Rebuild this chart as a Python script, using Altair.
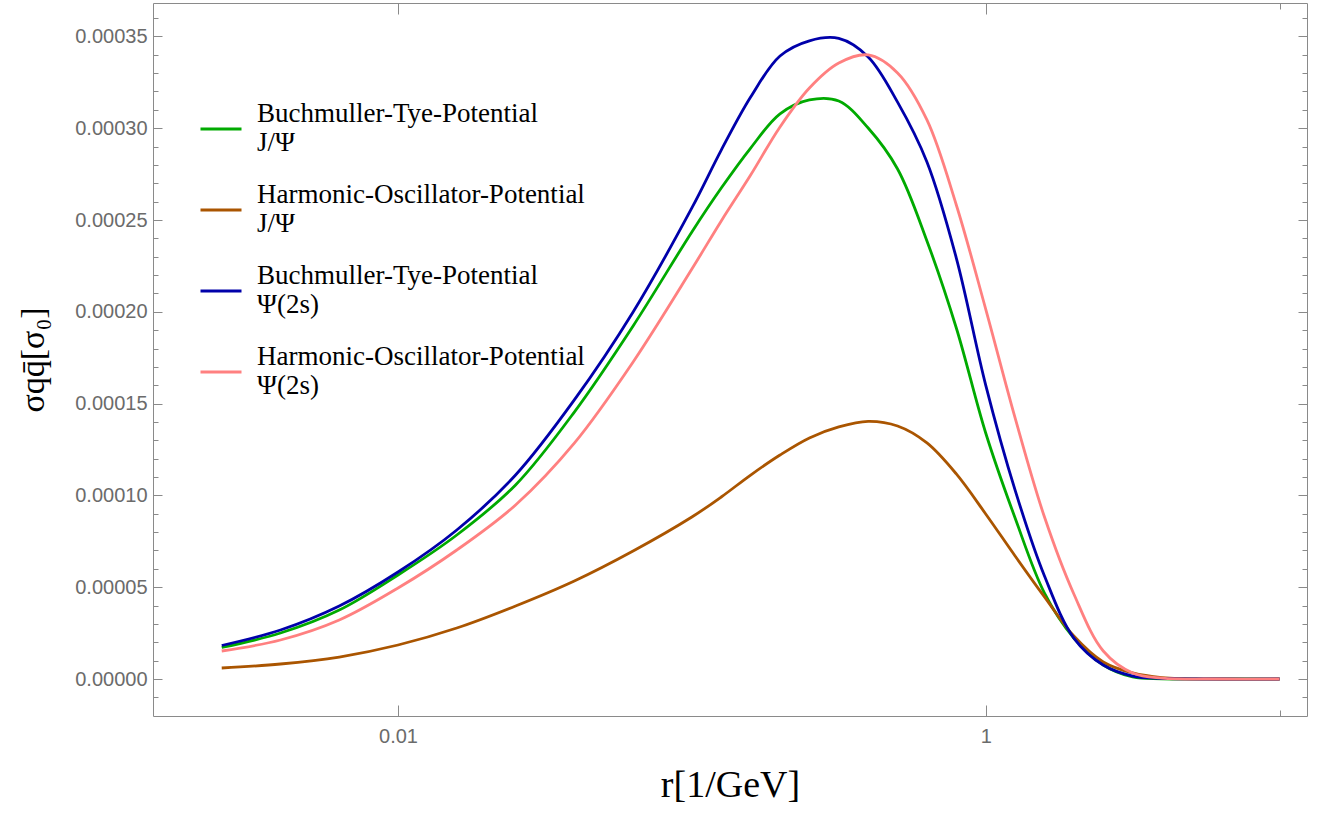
import altair as alt
import pandas as pd

# ---------------- data ----------------
r_values = [0.002512, 0.003981, 0.00631, 0.01, 0.01585, 0.02512, 0.03981, 0.0631,
            0.1, 0.1259, 0.1585, 0.1995, 0.2512, 0.3162, 0.3981, 0.5012, 0.631,
            0.7943, 1.0, 1.259, 1.585, 1.995, 2.512, 3.162, 3.981, 6.31, 10.0]

# values in units of 1e-5 sigma_0
bt_jpsi = [1.716, 2.506, 3.758, 5.665, 7.844, 10.57, 14.54, 19.23, 24.35, 26.74, 28.92,
           30.78, 31.54, 31.48, 30.01, 27.78, 23.86, 19.12, 13.40, 8.77, 4.68, 2.23,
           0.76, 0.11, 0.01, 0.0, 0.0]
ho_jpsi = [0.599, 0.817, 1.198, 1.852, 2.778, 3.976, 5.338, 6.972, 8.824, 9.914, 11.11,
           12.20, 13.13, 13.73, 14.03, 13.78, 12.86, 11.17, 8.99, 6.70, 4.47, 2.34,
           0.93, 0.33, 0.08, 0.0, 0.0]
bt_psi2s = [1.825, 2.669, 3.976, 5.828, 8.116, 11.11, 15.20, 19.99, 25.66, 28.81, 31.70,
            33.93, 34.76, 34.89, 33.88, 31.42, 28.16, 22.93, 16.01, 10.29, 5.61, 2.23,
            0.76, 0.16, 0.03, 0.0, 0.0]
ho_psi2s = [1.525, 2.124, 3.214, 4.957, 7.027, 9.48, 12.85, 17.27, 22.33, 24.95, 27.45,
            30.07, 32.19, 33.55, 33.99, 33.01, 30.45, 25.82, 20.15, 14.22, 8.82, 4.63,
            1.525, 0.33, 0.05, 0.0, 0.0]

series_names = ["Buchmuller-Tye-Potential|J/Ψ",
                "Harmonic-Oscillator-Potential|J/Ψ",
                "Buchmuller-Tye-Potential|Ψ(2s)",
                "Harmonic-Oscillator-Potential|Ψ(2s)"]
series_values = [bt_jpsi, ho_jpsi, bt_psi2s, ho_psi2s]
series_colors = ["#00aa00", "#aa5500", "#0000aa", "#ff8080"]

x_major_ticks = [0.01, 1]
x_minor_ticks = [10]
y_major_ticks = [0.0, 0.00005, 0.0001, 0.00015, 0.0002, 0.00025, 0.0003, 0.00035]
y_minor_ticks = [round(k * 1e-5, 7) for k in range(-1, 37)]

rows = []
for name, vals in zip(series_names, series_values):
    for r, v in zip(r_values, vals):
        rows.append({"r": r, "value": v * 1e-5, "series": name})
df = pd.DataFrame(rows)

# ---------------- styling ----------------
FRAME = "#8a8a8a"
LABEL = "#6b6b6b"

x_scale = alt.Scale(type="log", domain=[0.001466, 12.4], nice=False)
y_scale = alt.Scale(domain=[-2.015e-5, 36.82e-5], nice=False, zero=False)

common = dict(domain=False, grid=False, tickColor=FRAME, tickWidth=1)

lines = alt.Chart(df).mark_line(strokeWidth=2.8, interpolate="catmull-rom").encode(
    x=alt.X("r:Q", scale=x_scale,
            axis=alt.Axis(orient="bottom", values=x_major_ticks, format="~g",
                          tickSize=11, offset=-11, labelPadding=10,
                          labelFont="Liberation Sans", labelFontSize=20, labelColor=LABEL,
                          title="r[1/GeV]", titleFont="Liberation Serif", titleFontSize=38,
                          titleFontWeight="normal", titleColor="black", titlePadding=20,
                          **common)),
    y=alt.Y("value:Q", scale=y_scale,
            axis=alt.Axis(orient="left", values=y_major_ticks, format=".5f",
                          tickSize=9, offset=-9, labelPadding=6,
                          labelFont="Liberation Sans", labelFontSize=20, labelColor=LABEL,
                          title="σqq̄[σ₀]", titleFont="Liberation Serif", titleFontSize=34,
                          titleFontWeight="normal", titleColor="black", titlePadding=24,
                          **common)),
    color=alt.Color("series:N",
                    scale=alt.Scale(domain=series_names, range=series_colors),
                    legend=alt.Legend(orient="none", legendX=46, legendY=104, title=None,
                                      labelExpr="split(datum.label, '|')",
                                      labelBaseline="line-bottom",
                                      symbolType="stroke", symbolSize=1681,
                                      symbolStrokeWidth=3, labelFont="Liberation Serif",
                                      labelFontSize=27, labelColor="black", labelLimit=0,
                                      labelOffset=14, rowPadding=25, padding=0)),
)


def ghost(xaxis, yaxis):
    return alt.Chart(df).mark_line(opacity=0).encode(
        x=alt.X("r:Q", scale=x_scale, axis=xaxis),
        y=alt.Y("value:Q", scale=y_scale, axis=yaxis),
    )


minor_lb = ghost(
    alt.Axis(orient="bottom", values=x_minor_ticks, tickSize=6, offset=-6, labels=False, title=None, **common),
    alt.Axis(orient="left", values=y_minor_ticks, tickSize=5, offset=-5, labels=False, title=None, **common),
)
major_tr = ghost(
    alt.Axis(orient="top", values=x_major_ticks, tickSize=11, offset=-11, labels=False, title=None, **common),
    alt.Axis(orient="right", values=y_major_ticks, tickSize=9, offset=-9, labels=False, title=None, **common),
)
minor_tr = ghost(
    alt.Axis(orient="top", values=x_minor_ticks, tickSize=6, offset=-6, labels=False, title=None, **common),
    alt.Axis(orient="right", values=y_minor_ticks, tickSize=5, offset=-5, labels=False, title=None, **common),
)

chart = alt.layer(lines, minor_lb, major_tr, minor_tr).resolve_axis(
    x="independent", y="independent"
).properties(
    width=1154, height=713,
    autosize=alt.AutoSizeParams(type="none"),
    padding={"left": 153, "top": 3, "right": 13, "bottom": 97},
    background="white",
).configure_view(stroke=FRAME, strokeWidth=1)

chart.save("out.html", embed_options={"renderer": "svg", "actions": False})
